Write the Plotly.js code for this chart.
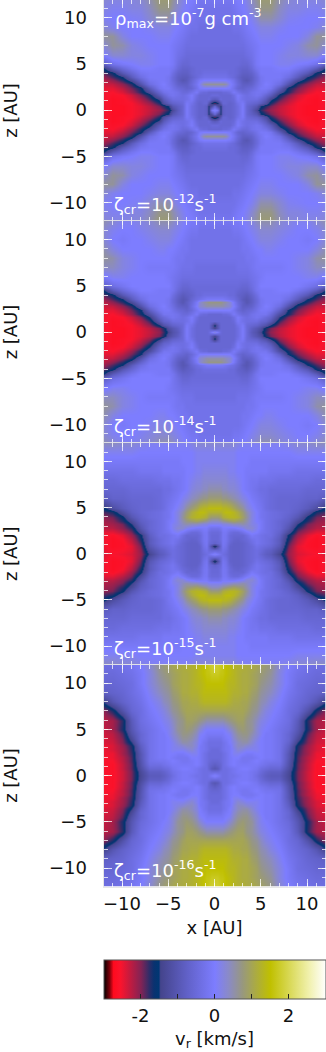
<!DOCTYPE html>
<html><head><meta charset="utf-8">
<script src="https://cdn.plot.ly/plotly-3.0.1.min.js"></script>
<style>html,body{margin:0;padding:0;background:#fff;overflow:hidden}</style>
</head><body><div id="chart" style="width:326px;height:1052px"></div>
<script>
// Radial velocity v_r [km/s] on an x >= 0, z >= 0 quadrant (the maps are mirror symmetric).
const xQuad = [0,.3,.6,.9,1.2,1.6,2,2.5,3,3.5,4,4.5,5,5.5,6,7,8,9,10,11,12];
const zQuad = [0,.4,.8,1.2,1.6,2,2.4,2.8,3.2,3.6,4,4.5,5,6,7,8,9,10,11,12];
const panelLabels = ['10<sup>-12</sup>','10<sup>-14</sup>','10<sup>-15</sup>','10<sup>-16</sup>'];
const tickVals = [-10,-5,0,5,10];
const barVals = [-2,-1,0,1,2];
const barText = ['-2','','0','','2'];
const vrA = [
[.1,-.2,-1.5,-.8,-.7,-.7,-.6,-.4,-.05,-.6,-.9,-1.3,-1.75,-1.95,-2.1,-2.3,-2.45,-2.55,-2.65,-2.65,-2.5],
[-.6,-1.2,-1.5,-.8,-.7,-.7,-.6,-.4,-.05,-.6,-.8,-1,-1.5,-1.75,-1.95,-2.25,-2.45,-2.55,-2.65,-2.65,-2.5],
[-1.9,-1.6,-1,-.6,-.6,-.7,-.6,-.3,-.1,-.5,-.6,-.7,-.9,-1.2,-1.7,-2.1,-2.35,-2.55,-2.6,-2.65,-2.5],
[-.9,-.8,-.5,-.6,-.6,-.6,-.5,-.1,-.3,-.4,-.4,-.4,-.6,-.9,-1.4,-1.85,-2.2,-2.45,-2.6,-2.65,-2.5],
[-.5,-.5,-.6,-.6,-.6,-.6,-.4,-.05,-.3,-.4,-.3,-.2,-.3,-.6,-.9,-1.65,-2,-2.35,-2.55,-2.6,-2.5],
[-.6,-.6,-.6,-.5,-.5,-.4,-.1,-.3,-.5,-.5,-.3,-.2,-.2,-.3,-.6,-1.3,-1.75,-2.1,-2.4,-2.55,-2.5],
[0,0,0,0,0,-.05,-.3,-.6,-.7,-.6,-.5,-.3,-.1,-.1,-.2,-.9,-1.65,-1.95,-2.25,-2.45,-2.45],
[.6,.6,.6,.6,.5,.1,-.2,-.5,-.8,-.8,-.7,-.4,-.2,0,-.1,-.4,-1.1,-1.75,-2.05,-2.3,-2.35],
[0,0,0,0,0,-.1,-.3,-.6,-.9,-1,-.8,-.5,-.2,-.1,-.1,-.2,-.7,-1.3,-1.75,-2.05,-2.25],
[-.3,-.3,-.3,-.3,-.3,-.4,-.5,-.7,-.9,-.9,-.8,-.5,-.2,-.1,-.1,-.1,-.4,-.9,-1.55,-1.85,-2.1],
[-.4,-.4,-.4,-.4,-.4,-.5,-.5,-.6,-.8,-.8,-.7,-.4,-.1,-.1,-.1,-.1,-.2,-.6,-1,-1.65,-1.9],
[-.5,-.5,-.5,-.5,-.5,-.5,-.5,-.6,-.7,-.7,-.5,-.2,-.1,-.1,-.1,0,0,-.2,-.5,-.9,-1.55],
[-.5,-.5,-.5,-.5,-.5,-.5,-.5,-.5,-.6,-.6,-.4,-.1,0,0,0,.1,.1,0,-.1,-.3,-.8],
[-.5,-.5,-.5,-.5,-.5,-.5,-.5,-.5,-.5,-.4,-.3,-.1,0,0,0,.1,.2,.2,.3,.3,0],
[-.4,-.4,-.4,-.4,-.4,-.4,-.4,-.4,-.4,-.3,-.2,-.1,0,0,0,0,.1,.2,.5,.6,.3],
[-.4,-.4,-.4,-.4,-.4,-.4,-.4,-.4,-.3,-.2,-.1,0,.1,.1,.1,0,0,0,.2,.6,.6],
[-.4,-.4,-.4,-.4,-.4,-.4,-.3,-.3,-.2,-.1,0,.1,.2,.2,.2,.1,0,0,0,.1,.3],
[-.3,-.3,-.3,-.3,-.3,-.3,-.3,-.2,-.1,0,.1,.3,.5,.5,.5,.3,.1,.05,0,0,.1],
[-.3,-.3,-.3,-.3,-.3,-.3,-.2,-.1,0,.1,.3,.5,.7,.7,.7,.4,.2,.2,.1,.1,.2],
[-.2,-.2,-.2,-.2,-.2,-.2,-.1,0,0,.2,.4,.6,.8,.8,.8,.5,.3,.2,.2,.2,.3]];
const vrB = [
[.2,-.1,-.5,-.6,-.6,-.6,-.6,-.4,-.05,-.5,-.9,-1.1,-1.4,-1.8,-2.05,-2.3,-2.45,-2.55,-2.65,-2.65,-2.5],
[-1.4,-1,-.6,-.6,-.6,-.6,-.6,-.4,-.05,-.5,-.8,-1,-1.2,-1.7,-1.95,-2.25,-2.45,-2.55,-2.65,-2.65,-2.5],
[-1.6,-1,-.6,-.6,-.6,-.6,-.6,-.3,-.1,-.5,-.6,-.7,-.9,-1.1,-1.5,-2.05,-2.35,-2.55,-2.6,-2.65,-2.5],
[-.6,-.6,-.6,-.6,-.6,-.6,-.5,-.1,-.3,-.4,-.4,-.4,-.6,-.7,-1,-1.8,-2.2,-2.45,-2.6,-2.65,-2.5],
[-.6,-.6,-.6,-.6,-.6,-.6,-.4,-.05,-.3,-.4,-.3,-.2,-.3,-.5,-.7,-1.5,-2,-2.35,-2.55,-2.6,-2.5],
[-.6,-.6,-.6,-.5,-.5,-.4,-.1,-.3,-.5,-.5,-.3,-.2,-.2,-.2,-.5,-1.2,-1.7,-2.1,-2.4,-2.55,-2.5],
[0,0,0,0,0,0,-.2,-.5,-.7,-.6,-.5,-.3,-.1,-.1,-.2,-.8,-1.6,-1.95,-2.25,-2.45,-2.45],
[.5,.5,.5,.5,.4,.3,0,-.4,-.8,-.8,-.7,-.4,-.2,0,-.1,-.4,-1.1,-1.75,-2.05,-2.3,-2.35],
[.7,.7,.7,.6,.5,.3,-.1,-.5,-.8,-1,-.8,-.5,-.2,-.1,-.1,-.2,-.7,-1.3,-1.75,-2.05,-2.25],
[-.1,-.1,-.1,-.1,-.2,-.3,-.4,-.6,-.9,-1,-.8,-.5,-.2,-.1,-.1,-.1,-.4,-.9,-1.55,-1.85,-2.1],
[-.4,-.4,-.4,-.4,-.4,-.5,-.5,-.7,-.8,-.9,-.7,-.4,-.1,-.1,-.1,-.1,-.2,-.6,-1,-1.65,-1.9],
[-.5,-.5,-.5,-.5,-.5,-.5,-.5,-.6,-.7,-.7,-.5,-.2,-.1,-.1,-.1,0,0,-.2,-.5,-.9,-1.55],
[-.5,-.5,-.5,-.5,-.5,-.5,-.5,-.5,-.6,-.6,-.4,-.2,0,0,0,0,0,0,-.2,-.4,-.8],
[-.4,-.4,-.4,-.4,-.4,-.4,-.4,-.4,-.4,-.4,-.3,-.2,-.1,0,0,0,0,0,.1,.1,-.1],
[-.4,-.4,-.4,-.4,-.4,-.4,-.4,-.3,-.3,-.3,-.2,-.1,-.1,-.1,-.1,-.1,0,.1,.2,.4,.4],
[-.3,-.3,-.3,-.3,-.3,-.3,-.3,-.3,-.3,-.2,-.2,-.1,0,0,0,0,0,.1,.2,.5,.6],
[-.3,-.3,-.3,-.3,-.3,-.3,-.3,-.3,-.2,-.2,-.1,0,0,.1,.1,0,0,0,0,.2,.5],
[-.3,-.3,-.3,-.3,-.3,-.3,-.3,-.3,-.2,-.1,0,.1,.2,.2,.2,.1,0,0,-.1,0,.3],
[-.3,-.3,-.3,-.3,-.3,-.3,-.2,-.2,-.1,0,.1,.2,.3,.3,.3,.2,.1,0,0,.1,.3],
[-.2,-.2,-.2,-.2,-.2,-.2,-.1,-.1,0,.1,.2,.4,.5,.5,.5,.3,.2,.1,.1,.3,.5]];
const vrC = [
[.1,-.1,-.3,-.4,-.5,-.7,-.75,-.75,-.7,-.6,-.5,-.4,-.6,-.8,-.9,-1.4,-2.1,-2.4,-2.5,-2.55,-2.4],
[-.6,-.6,-.5,-.3,-.4,-.7,-.75,-.75,-.7,-.6,-.5,-.4,-.5,-.7,-.8,-1.2,-2.05,-2.45,-2.55,-2.6,-2.45],
[-1.8,-1.2,-.6,-.2,-.3,-.7,-.75,-.75,-.7,-.6,-.5,-.3,-.4,-.5,-.6,-1,-1.95,-2.45,-2.6,-2.65,-2.5],
[-.7,-.6,-.5,-.15,-.25,-.6,-.75,-.75,-.7,-.6,-.4,-.2,-.3,-.4,-.5,-.9,-1.85,-2.35,-2.6,-2.65,-2.5],
[-.55,-.55,-.4,-.15,-.2,-.5,-.65,-.7,-.6,-.5,-.3,-.2,-.3,-.4,-.5,-.9,-1.7,-2.25,-2.55,-2.65,-2.5],
[-.55,-.55,-.4,-.15,-.2,-.5,-.6,-.6,-.6,-.4,-.1,-.2,-.3,-.4,-.4,-.8,-1.6,-2.1,-2.45,-2.6,-2.5],
[-.5,-.5,-.4,-.15,-.15,-.4,-.5,-.5,-.3,-.1,.1,0,-.2,-.3,-.4,-.7,-1.3,-1.95,-2.25,-2.45,-2.45],
[-.3,-.3,-.2,-.05,-.05,-.1,-.1,0,.1,.3,.3,.1,-.1,-.3,-.4,-.6,-1.05,-1.75,-2.05,-2.25,-2.25],
[.1,.1,.1,.2,.2,.3,.4,.4,.5,.4,.2,.1,-.1,-.3,-.4,-.6,-.9,-1.5,-1.95,-2.15,-2.2],
[.4,.4,.5,.6,.7,.8,.9,.8,.7,.5,.2,0,-.1,-.3,-.4,-.6,-.8,-1.3,-1.75,-2.05,-2.15],
[.8,.8,.9,1.1,1.2,1.3,1.3,1.2,.9,.6,.2,0,-.2,-.3,-.4,-.5,-.7,-1,-1.6,-1.95,-2.05],
[1.2,1.2,1.2,1.3,1.4,1.4,1.3,1.1,.8,.5,.2,0,-.2,-.3,-.4,-.5,-.6,-.8,-1.2,-1.7,-1.85],
[1.4,1.4,1.4,1.3,1.3,1.2,1,.8,.6,.3,.1,-.1,-.2,-.4,-.5,-.6,-.6,-.7,-.9,-1.2,-1.6],
[.8,.8,.8,.7,.7,.6,.5,.4,.2,.1,-.1,-.2,-.3,-.4,-.5,-.6,-.6,-.6,-.7,-.7,-.9],
[.5,.5,.5,.4,.4,.3,.3,.2,0,-.1,-.2,-.3,-.4,-.4,-.5,-.5,-.5,-.5,-.6,-.6,-.6],
[.3,.3,.3,.3,.3,.2,.2,.1,0,-.1,-.2,-.2,-.3,-.3,-.3,-.4,-.4,-.4,-.4,-.5,-.5],
[.2,.2,.2,.2,.2,.1,.1,0,0,-.1,-.1,-.1,-.1,-.1,-.2,-.2,-.2,-.3,-.3,-.3,-.3],
[.1,.1,.1,.1,.1,.1,.1,0,0,0,-.1,-.1,-.1,-.1,-.1,-.1,-.1,-.1,-.1,-.1,-.1],
[.1,.1,.1,.1,.1,.1,.1,0,0,0,0,0,0,0,0,0,0,.1,.1,.1,.1],
[.3,.3,.3,.3,.3,.3,.3,.2,.1,.1,.1,.1,.1,.1,.1,.1,.2,.3,.3,.4,.4]];
const vrD = [
[.1,-.1,-.3,-.4,-.4,-.3,-.3,-.2,-.1,-.1,-.2,-.4,-.6,-.8,-.9,-.9,-1.35,-1.95,-2.35,-2.6,-2.55],
[-.5,-.5,-.4,-.4,-.4,-.3,-.2,-.1,-.1,-.1,-.2,-.3,-.5,-.7,-.8,-.8,-1.3,-1.95,-2.35,-2.6,-2.55],
[-1,-.9,-.6,-.4,-.4,-.3,-.2,-.1,0,0,-.1,-.2,-.4,-.5,-.6,-.6,-1.2,-1.9,-2.3,-2.6,-2.55],
[-.8,-.7,-.6,-.4,-.3,-.1,0,-.1,-.1,-.1,-.1,-.1,-.2,-.3,-.4,-.4,-1.1,-1.9,-2.3,-2.6,-2.55],
[-.6,-.6,-.5,-.4,-.3,-.1,0,-.1,-.2,-.2,-.1,0,-.1,-.2,-.2,-.3,-1.05,-1.85,-2.25,-2.55,-2.55],
[-.5,-.5,-.5,-.4,-.3,-.1,0,0,-.2,-.2,-.2,-.1,0,-.1,-.1,-.3,-1,-1.85,-2.25,-2.5,-2.55],
[-.5,-.5,-.5,-.4,-.3,-.1,.1,.1,0,-.1,-.1,0,0,-.1,-.1,-.3,-1,-1.8,-2.15,-2.5,-2.5],
[-.5,-.5,-.4,-.3,-.2,-.1,.1,.3,.2,.1,.1,.1,0,-.1,-.1,-.3,-.9,-1.75,-2.15,-2.4,-2.5],
[-.4,-.4,-.4,-.3,-.2,-.1,.2,.4,.4,.3,.2,.1,0,-.1,-.1,-.3,-.8,-1.7,-2.1,-2.4,-2.5],
[-.4,-.4,-.4,-.3,-.2,0,.2,.4,.5,.5,.3,.1,0,-.1,-.1,-.3,-.7,-1.5,-2,-2.35,-2.4],
[-.3,-.3,-.3,-.2,-.1,0,.3,.5,.6,.6,.4,.2,0,-.1,-.1,-.3,-.6,-1.3,-1.95,-2.3,-2.4],
[-.1,-.1,-.1,-.1,0,.1,.4,.6,.7,.7,.5,.3,.1,-.1,-.1,-.3,-.6,-1.1,-1.85,-2.25,-2.35],
[0,0,0,0,.1,.3,.5,.7,.8,.7,.6,.3,.1,0,-.1,-.3,-.5,-1,-1.7,-2.15,-2.3],
[.5,.5,.5,.5,.6,.7,.8,.9,.9,.7,.6,.4,.2,.1,0,-.2,-.4,-.9,-1.75,-2.15,-2.25],
[1,1,1,1,1,1,1,1,1,.9,.7,.6,.4,.2,.1,-.1,-.4,-.6,-1.1,-1.7,-2.05],
[1.3,1.3,1.3,1.3,1.3,1.2,1.1,1.1,1,1,.8,.7,.5,.4,.2,0,-.3,-.5,-.7,-1,-1.45],
[1.4,1.4,1.4,1.4,1.4,1.3,1.2,1.2,1.1,1.1,.9,.8,.6,.5,.4,.1,-.2,-.4,-.6,-.7,-.8],
[1.5,1.5,1.5,1.5,1.4,1.3,1.3,1.2,1.1,1.1,1,.9,.7,.6,.5,.2,-.1,-.4,-.5,-.6,-.6],
[1.7,1.7,1.6,1.6,1.5,1.4,1.3,1.2,1.1,1.1,1,.9,.8,.7,.6,.2,-.1,-.3,-.4,-.5,-.5],
[1.8,1.8,1.7,1.6,1.5,1.4,1.3,1.2,1.2,1.1,1.1,1,.9,.8,.7,.3,0,-.2,-.3,-.4,-.4]];
const panels = [vrA, vrB, vrC, vrD];

const colorStops = [
[0,'rgb(0,0,0)'],[0.025,'rgb(125,0,10)'],[0.043,'rgb(255,10,30)'],[0.075,'rgb(250,20,45)'],
[0.167,'rgb(130,35,85)'],[0.205,'rgb(45,45,105)'],[0.225,'rgb(10,50,112)'],[0.247,'rgb(0,55,115)'],[0.255,'rgb(68,68,140)'],
[0.375,'rgb(97,97,200)'],[0.5,'rgb(125,125,255)'],[0.56,'rgb(138,138,200)'],[0.625,'rgb(152,152,125)'],
[0.75,'rgb(192,192,0)'],[0.83,'rgb(215,215,80)'],[0.92,'rgb(240,240,170)'],[1,'rgb(255,255,255)']];

const W = 326, H = 1052, LEFT = 103.5, RIGHT = 325.5, BAR_TOP = 960;
const tops = [0, 221, 443, 664.5], bottoms = [221, 443, 664.5, 886.5];
const full = a => a.slice(1).map(v => -v).reverse().concat(a);
const fullRow = r => r.slice(1).reverse().concat(r);
const xAll = full(xQuad), zAll = full(zQuad);
const data = [], annotations = [];
const font = {family:'DejaVu Sans', size:18, color:'#111'};
const barTickShapes = barVals.map(v => ({type:'line', xref:'paper', yref:'paper',
  x0:((LEFT+RIGHT)/2+v*37)/W, x1:((LEFT+RIGHT)/2+v*37)/W, y0:1-BAR_TOP/H, y1:1-(BAR_TOP+5)/H, line:{color:'#222', width:1}}));
const layout = {width:W, height:H, margin:{l:0,r:0,t:0,b:0}, paper_bgcolor:'#fff', plot_bgcolor:'#fff', font:font, showlegend:false,
  coloraxis:{cmin:-3, cmax:3, colorscale:colorStops, colorbar:{
    orientation:'h', lenmode:'pixels', len:222, thicknessmode:'pixels', thickness:39,
    x:(LEFT+RIGHT)/2/W, xanchor:'center', y:1-BAR_TOP/H, yanchor:'top', xpad:0, ypad:0,
    outlinecolor:'#555', outlinewidth:1, tickmode:'array', tickvals:barVals, ticktext:barText,
    ticks:'inside', ticklen:5, tickcolor:'#222', tickfont:font,
    title:{text:'v<sub>r</sub> [km/s]', side:'bottom', font:font}}},
  annotations:annotations, shapes:barTickShapes};
panels.forEach((p,i)=>{
  const n = i===0 ? '' : String(i+1);
  const rows = p.map(fullRow);
  const zz = rows.slice(1).reverse().concat(rows);
  data.push({type:'heatmap', x:xAll, y:zAll, z:zz, zsmooth:'best', coloraxis:'coloraxis', xaxis:'x'+n, yaxis:'y'+n, hoverinfo:'skip'});
  const tickLine = 'rgba(255,255,255,.75)';
  const common = {tickmode:'array', tickvals:tickVals, ticks:'inside', ticklen:8, tickwidth:1, tickcolor:tickLine,
    minor:{dtick:1, ticks:'inside', ticklen:4, tickwidth:1, tickcolor:tickLine},
    mirror:'ticks', showline:true, linecolor:'rgba(230,230,230,.9)', linewidth:1, showgrid:false, zeroline:false, tickfont:font};
  layout['xaxis'+n] = Object.assign({}, common, {domain:[LEFT/W, RIGHT/W], range:[-12,12], anchor:'y'+n, ticklabelstandoff:1,
    showticklabels:i===3, title:i===3?{text:'x [AU]', font:font, standoff:8}:undefined});
  layout['yaxis'+n] = Object.assign({}, common, {domain:[1-bottoms[i]/H, 1-tops[i]/H], ticklabelstandoff:12,
    range:i===0?[-12,11.9]:[-12,12], anchor:'x'+n, title:{text:'z [AU]', font:font, standoff:28}});
  annotations.push({xref:'x'+n, yref:'y'+n, x:-11.1, y:-10.2, xanchor:'left', yanchor:'middle', showarrow:false,
    text:'ζ<sub>cr</sub>='+panelLabels[i]+'s<sup>-1</sup>', font:{family:'DejaVu Sans', size:18, color:'#fff'}});
});
annotations.push({xref:'x', yref:'y', x:-11, y:10, xanchor:'left', yanchor:'middle', showarrow:false,
  text:'ρ<sub>max</sub>=10<sup>-7</sup>g cm<sup>-3</sup>', font:{family:'DejaVu Sans', size:18, color:'#fff'}});
Plotly.newPlot('chart', data, layout, {displayModeBar:false, staticPlot:true});
</script></body></html>
